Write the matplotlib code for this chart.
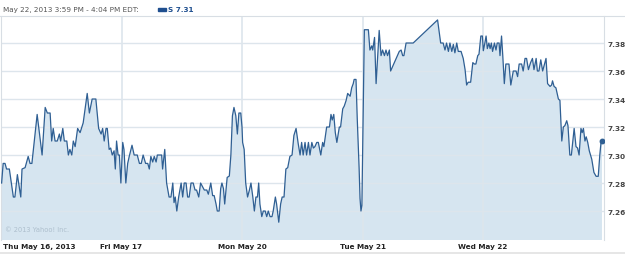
import numpy as np
import matplotlib.pyplot as plt

# intraday prices of S, 16-22 May 2013; time = minutes after the 9:30 open
thu_t = [2, 7, 13, 18, 27, 40, 45, 53, 64, 68, 78, 88, 94, 100, 117, 133, 143, 150, 159, 164,
         169, 175, 182, 189, 193, 200, 205, 213, 218, 223, 229, 234, 240, 248, 256, 266, 279,
         286, 295, 307, 316, 324, 329, 334, 340, 344, 350, 355, 360, 366, 370, 374, 379, 383, 388]
thu_p = [7.280, 7.294, 7.294, 7.290, 7.290, 7.270, 7.270, 7.286, 7.270, 7.290, 7.291, 7.299,
         7.294, 7.294, 7.329, 7.300, 7.334, 7.330, 7.330, 7.310, 7.319, 7.310, 7.310, 7.315,
         7.310, 7.319, 7.310, 7.310, 7.300, 7.304, 7.300, 7.310, 7.306, 7.319, 7.316, 7.323,
         7.344, 7.330, 7.340, 7.340, 7.319, 7.315, 7.319, 7.310, 7.319, 7.319, 7.304, 7.305,
         7.300, 7.303, 7.290, 7.310, 7.300, 7.300, 7.280]

fri_t = [4, 8, 14, 20, 25, 34, 41, 51, 58, 64, 70, 78, 85, 90, 95, 101, 106, 112, 116, 130,
         133, 140, 146, 154, 160, 166, 170, 174, 179, 185, 193, 198, 203, 209, 214, 219, 225,
         232, 238, 243, 250, 256, 268, 276, 281, 289, 295, 300, 306, 310, 316, 321, 325, 330,
         334, 342, 349, 354, 359, 364, 370, 375, 380, 386]
fri_p = [7.309, 7.304, 7.280, 7.294, 7.299, 7.307, 7.300, 7.300, 7.294, 7.294, 7.300, 7.294,
         7.294, 7.290, 7.299, 7.295, 7.299, 7.295, 7.300, 7.300, 7.290, 7.304, 7.280, 7.270,
         7.270, 7.280, 7.266, 7.270, 7.260, 7.270, 7.280, 7.270, 7.280, 7.280, 7.270, 7.270,
         7.280, 7.280, 7.275, 7.275, 7.270, 7.280, 7.275, 7.275, 7.272, 7.280, 7.271, 7.271,
         7.265, 7.260, 7.260, 7.276, 7.280, 7.276, 7.265, 7.284, 7.285, 7.300, 7.328, 7.334,
         7.328, 7.315, 7.330, 7.330]

mon_t = [0, 2, 7, 12, 18, 24, 29, 35, 40, 45, 50, 54, 58, 64, 69, 75, 80, 85, 91, 97, 101,
         108, 112, 119, 125, 130, 136, 142, 148, 155, 162, 168, 175, 182, 188, 193, 198, 204,
         209, 215, 220, 226, 231, 236, 242, 247, 255, 261, 265, 274, 283, 288, 292, 297, 302,
         307, 315, 319, 326, 331, 337, 342, 350, 355, 360, 363, 369, 373, 379, 382, 385, 388]
mon_p = [7.320, 7.309, 7.304, 7.280, 7.270, 7.275, 7.280, 7.270, 7.260, 7.270, 7.270, 7.280,
         7.265, 7.256, 7.260, 7.260, 7.256, 7.260, 7.256, 7.256, 7.260, 7.270, 7.265, 7.252,
         7.265, 7.270, 7.270, 7.290, 7.291, 7.299, 7.300, 7.314, 7.319, 7.308, 7.300, 7.309,
         7.300, 7.309, 7.300, 7.309, 7.300, 7.309, 7.305, 7.306, 7.309, 7.309, 7.300, 7.309,
         7.306, 7.320, 7.320, 7.329, 7.325, 7.329, 7.316, 7.309, 7.320, 7.320, 7.333, 7.335,
         7.339, 7.344, 7.342, 7.348, 7.351, 7.354, 7.354, 7.326, 7.291, 7.269, 7.260, 7.264]

tue_t = [6, 19, 24, 30, 33, 39, 44, 54, 60, 65, 71, 76, 81, 87, 91, 119, 125, 130, 134, 141,
         164, 243, 253, 261, 267, 272, 278, 283, 289, 294, 299, 305, 310, 319, 326, 332, 337,
         342, 350, 357, 362, 367, 373, 377, 383, 388]
tue_p = [7.3895, 7.3895, 7.375, 7.378, 7.375, 7.384, 7.351, 7.389, 7.371, 7.375, 7.371, 7.375,
         7.371, 7.375, 7.360, 7.374, 7.375, 7.371, 7.371, 7.380, 7.380, 7.3965, 7.380, 7.380,
         7.375, 7.380, 7.374, 7.380, 7.374, 7.379, 7.373, 7.380, 7.374, 7.374, 7.369, 7.361,
         7.350, 7.352, 7.352, 7.366, 7.365, 7.365, 7.371, 7.372, 7.385, 7.385]

wed_t = [1, 6, 10, 14, 19, 23, 27, 31, 37, 42, 46, 52, 55, 60, 64, 69, 74, 84, 90, 98, 107,
         112, 117, 125, 130, 136, 141, 147, 154, 160, 165, 172, 176, 181, 187, 193, 198, 204,
         209, 217, 222, 225, 230, 236, 244, 249, 255, 260, 265, 271, 275, 281, 286, 295, 301,
         306, 311, 317, 321, 325, 330, 334, 339, 344, 352, 359, 366, 373, 378, 382, 385]
wed_p = [7.3745, 7.380, 7.385, 7.376, 7.380, 7.376, 7.380, 7.374, 7.380, 7.375, 7.380, 7.380,
         7.371, 7.385, 7.371, 7.351, 7.365, 7.365, 7.350, 7.360, 7.360, 7.356, 7.365, 7.365,
         7.360, 7.369, 7.369, 7.361, 7.366, 7.369, 7.361, 7.369, 7.360, 7.360, 7.368, 7.360,
         7.364, 7.369, 7.351, 7.349, 7.350, 7.353, 7.349, 7.348, 7.340, 7.339, 7.310, 7.320,
         7.321, 7.3245, 7.321, 7.300, 7.300, 7.319, 7.306, 7.305, 7.300, 7.319, 7.316, 7.319,
         7.310, 7.313, 7.309, 7.303, 7.297, 7.2876, 7.2848, 7.2848, 7.300, 7.309, 7.310]

day_labels = ['Thu May 16, 2013', 'Fri May 17', 'Mon May 20', 'Tue May 21', 'Wed May 22']
y_ticks = [7.26, 7.28, 7.30, 7.32, 7.34, 7.36, 7.38]
session = 390

days_t = [thu_t, fri_t, mon_t, tue_t, wed_t]
days_p = [thu_p, fri_p, mon_p, tue_p, wed_p]
t = np.concatenate([np.array(d) + i * session for i, d in enumerate(days_t)])
p = np.concatenate(days_p)

line_c = '#2f5f93'
fill_c = '#d6e5f0'
grid_c = '#dde5ec'

fig = plt.figure(figsize=(6.25, 2.55), dpi=100)
ax = fig.add_axes([1 / 625, 1 - 241 / 255, 602.5 / 625, 224 / 255])

ax.fill_between(t, p, 7.2, color=fill_c, lw=0, zorder=1)
ax.plot(t, p, color=line_c, lw=0.9, zorder=3)
ax.plot(t[-1], p[-1], 'o', color=line_c, ms=3.2, zorder=4)

ax.set_xlim(0, 5 * session)
ax.set_ylim(7.2393, 7.3993)

for yv in y_ticks:
    ax.axhline(yv, color=grid_c, lw=1.0, zorder=2)
for i in range(1, 5):
    ax.axvline(i * session, color=grid_c, lw=1.2, zorder=2)

ax.set_xticks([])
ax.set_yticks(y_ticks)
ax.yaxis.tick_right()
ax.set_yticklabels([f'{v:.2f}' for v in y_ticks], fontsize=5.3, fontweight='bold', color='#444444')
ax.tick_params(axis='y', length=0, pad=3)
for s in ['top', 'bottom']:
    ax.spines[s].set_visible(False)
for s in ['left', 'right']:
    ax.spines[s].set_color('#d8dee4')
    ax.spines[s].set_linewidth(0.8)

# day labels under the plot
lab_y = 1 - 247.5 / 255
fig.text(3 / 625, lab_y, day_labels[0], ha='left', va='center',
         fontsize=5.2, fontweight='bold', color='#222222')
for i, lab in enumerate(day_labels[1:], start=1):
    ax.text(i * session, 0, lab, transform=ax.get_xaxis_transform(), ha='center', va='center',
            fontsize=5.2, fontweight='bold', color='#222222')
for txt in ax.texts:
    txt.set_y(-6.5 / 224)

ax.text(0.007, 0.035, '\u00a9 2013 Yahoo! Inc.', transform=ax.transAxes, fontsize=4.8,
        color='#aebfcd', ha='left', va='bottom')

# header
fig.text(3 / 625, 1 - 10 / 255, 'May 22, 2013 3:59 PM - 4:04 PM EDT:', fontsize=5.2,
         color='#555555', ha='left', va='center')
fig.patches.append(plt.Rectangle((158 / 625, 1 - 11.5 / 255), 8 / 625, 3 / 255,
                                 transform=fig.transFigure, color='#1f4f8f'))
fig.text(168 / 625, 1 - 10 / 255, f'S {p[-1]:.2f}', fontsize=5.2, fontweight='bold',
         color='#1f4f8f', ha='left', va='center')
fig.add_artist(plt.Line2D([0, 1], [1 - 17 / 255, 1 - 17 / 255], color='#d8dee4', lw=0.8))
fig.add_artist(plt.Line2D([0, 1], [1 - 254 / 255, 1 - 254 / 255], color='#e2e2e2', lw=1.2))

fig.savefig('out.png', dpi=100)
